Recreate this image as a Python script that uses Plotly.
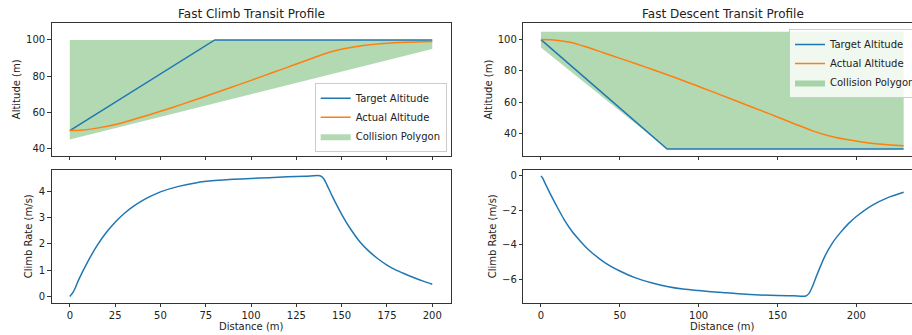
import plotly.graph_objects as go

# ---------------- data ----------------
# Fast climb
climb_target_x = [0, 80, 200]
climb_target_y = [50, 100, 100]
climb_actual_x = [0, 7.4, 16.6, 25.8, 36.8, 50, 62.6, 75, 88.4, 100, 112, 125, 136, 142, 148, 155, 162, 173, 186, 200]
climb_actual_y = [50, 50.3, 51.6, 53.5, 56.6, 60.6, 64.7, 68.9, 73.6, 77.7, 82.0, 86.7, 90.7, 92.8, 94.5, 95.9, 96.9, 98.0, 98.7, 99.1]
climb_poly_x = [0, 0, 200, 200]
climb_poly_y = [100, 45, 95, 100]
climb_rate_x = [0, 2, 5, 10, 15, 20, 25, 30, 35, 40, 45, 50, 60, 70, 80, 90, 100, 110, 120, 130, 138,
                140, 142, 145, 150, 155, 160, 165, 170, 175, 180, 185, 190, 195, 200]
climb_rate_y = [0, 0.18, 0.65, 1.33, 1.93, 2.42, 2.82, 3.15, 3.42, 3.64, 3.82, 3.97, 4.18, 4.32, 4.40,
                4.45, 4.48, 4.51, 4.54, 4.56, 4.58, 4.48, 4.22, 3.78, 3.12, 2.55, 2.08, 1.72, 1.43,
                1.19, 1.00, 0.85, 0.71, 0.58, 0.46]

# Fast descent
desc_target_x = [0, 80, 230]
desc_target_y = [100, 30, 30]
desc_actual_x = [0, 8, 18.4, 29, 39.5, 50.1, 60.7, 71.2, 81.8, 92.4, 102.9, 113.5, 129.6, 140.1,
                 150.7, 161.3, 171.8, 182.4, 193, 203.5, 214.1, 230]
desc_actual_y = [100, 99.8, 98.3, 95.2, 91.6, 88.0, 84.4, 80.7, 76.9, 72.9, 68.9, 64.8, 58.5, 54.4,
                 50.2, 45.9, 41.8, 38.5, 36.2, 34.5, 33.2, 32.1]
desc_poly_x = [0, 0, 80, 230, 230]
desc_poly_y = [105, 95, 30, 30, 105]
desc_rate_x = [0, 1, 3, 6, 10, 15, 20, 25, 30, 40, 50, 60, 70, 80, 90, 100, 115, 130, 150, 160, 168,
               170, 172, 175, 180, 185, 190, 195, 200, 210, 220, 230]
desc_rate_y = [0, -0.12, -0.50, -1.06, -1.76, -2.58, -3.26, -3.79, -4.27, -5.00, -5.52, -5.92, -6.20,
               -6.42, -6.57, -6.66, -6.77, -6.87, -6.95, -6.96, -6.97, -6.82, -6.45, -5.75, -4.67,
               -3.87, -3.28, -2.77, -2.36, -1.71, -1.26, -0.95]

left_xticks = [0, 25, 50, 75, 100, 125, 150, 175, 200]
right_xticks = [0, 50, 100, 150, 200]
alt_ticks = [40, 60, 80, 100]
climb_rate_ticks = [0, 1, 2, 3, 4]
desc_rate_ticks = [-6, -4, -2, 0]

# ---------------- styling ----------------
W, H = 912, 335
FONT = "DejaVu Sans"
BLUE, ORANGE = "#1f77b4", "#ff7f0e"
POLY = "rgba(0,128,0,0.3)"

fig = go.Figure()

def add_panel(tx, ty, ax, ay, px, py, xa, ya, legend):
    fig.add_trace(go.Scatter(x=px, y=py, fill="toself", fillcolor=POLY, mode="lines",
                             line=dict(width=0, color=POLY), name="Collision Polygon",
                             xaxis=xa, yaxis=ya, legend=legend, legendrank=1002))
    fig.add_trace(go.Scatter(x=tx, y=ty, mode="lines", line=dict(color=BLUE, width=1.5),
                             name="Target Altitude", xaxis=xa, yaxis=ya, legend=legend, legendrank=1000))
    fig.add_trace(go.Scatter(x=ax, y=ay, mode="lines",
                             line=dict(color=ORANGE, width=1.5, shape="spline", smoothing=0.8),
                             name="Actual Altitude", xaxis=xa, yaxis=ya, legend=legend, legendrank=1001))

add_panel(climb_target_x, climb_target_y, climb_actual_x, climb_actual_y, climb_poly_x, climb_poly_y, "x", "y", "legend")
add_panel(desc_target_x, desc_target_y, desc_actual_x, desc_actual_y, desc_poly_x, desc_poly_y, "x2", "y2", "legend2")

fig.add_trace(go.Scatter(x=climb_rate_x, y=climb_rate_y, mode="lines",
                         line=dict(color=BLUE, width=1.5, shape="spline", smoothing=0.8),
                         xaxis="x3", yaxis="y3", showlegend=False))
fig.add_trace(go.Scatter(x=desc_rate_x, y=desc_rate_y, mode="lines",
                         line=dict(color=BLUE, width=1.5, shape="spline", smoothing=0.8),
                         xaxis="x4", yaxis="y4", showlegend=False))

xdom_L = [51.7 / W, 451.3 / W]
xdom_R = [523.3 / W, 1.0]
ydom_T = [1 - 155.7 / H, 1 - 23.3 / H]
ydom_B = [1 - 302.5 / H, 1 - 169.5 / H]

common = dict(showline=True, linecolor="#333", linewidth=1, ticks="outside", ticklen=3.5,
              tickwidth=0.8, tickcolor="#333", showgrid=False, zeroline=False,
              tickfont=dict(family=FONT, size=10, color="#222"), automargin=False)

fig.update_layout(
    xaxis=dict(domain=xdom_L, anchor="y", range=[-10, 210.5], tickvals=left_xticks, showticklabels=False, mirror=True, **common),
    yaxis=dict(domain=ydom_T, anchor="x", range=[36.1, 109.2], tickvals=alt_ticks, mirror=True, **common),
    xaxis2=dict(domain=xdom_R, anchor="y2", range=[-11.2, 235.3], tickvals=right_xticks, showticklabels=False, mirror=True, **common),
    yaxis2=dict(domain=ydom_T, anchor="x2", range=[25.75, 110.4], tickvals=alt_ticks, mirror=False, **common),
    xaxis3=dict(domain=xdom_L, anchor="y3", range=[-10, 210.5], tickvals=left_xticks, mirror=True, **common),
    yaxis3=dict(domain=ydom_B, anchor="x3", range=[-0.23, 4.82], tickvals=climb_rate_ticks, mirror=True, **common),
    xaxis4=dict(domain=xdom_R, anchor="y4", range=[-11.2, 235.3], tickvals=right_xticks, mirror=True, **common),
    yaxis4=dict(domain=ydom_B, anchor="x4", range=[-7.35, 0.37], tickvals=desc_rate_ticks, mirror=False, **common),
)

legend_style = dict(bgcolor="rgba(255,255,255,0.8)", bordercolor="#cccccc", borderwidth=1,
                    font=dict(family=FONT, size=10, color="#222"), itemwidth=30, tracegroupgap=0,
                    xref="paper", yref="paper")
fig.update_layout(
    legend=dict(x=446.7 / W, y=1 - 151.7 / H, xanchor="right", yanchor="bottom", **legend_style),
    legend2=dict(x=789 / W, y=1 - 29 / H, xanchor="left", yanchor="top", **legend_style),
)

def ann(text, x, y, size=10, angle=0):
    fig.add_annotation(text=text, x=x / W, y=1 - y / H, xref="paper", yref="paper", showarrow=False,
                       textangle=angle, xanchor="center", yanchor="middle",
                       font=dict(family=FONT, size=size, color="#222"))

ann("Fast Climb Transit Profile", 251.5, 14, size=12)
ann("Fast Descent Transit Profile", 722.5, 14, size=12)
ann("Altitude (m)", 16.7, 89.5, angle=-90)
ann("Altitude (m)", 488, 89.5, angle=-90)
ann("Climb Rate (m/s)", 29.3, 236, angle=-90)
ann("Climb Rate (m/s)", 493.3, 236, angle=-90)
ann("Distance (m)", 251.5, 326.7)
ann("Distance (m)", 722.5, 326.7)

fig.update_layout(width=W, height=H, margin=dict(l=0, r=0, t=0, b=0, autoexpand=False),
                  paper_bgcolor="white", plot_bgcolor="white", template="none",
                  font=dict(family=FONT, size=10, color="#222"))

fig.write_html("out.html", config={"displayModeBar": False},
               post_script="document.body.style.margin='0px';document.body.style.padding='0px';"
                           "document.body.style.overflow='hidden';")
